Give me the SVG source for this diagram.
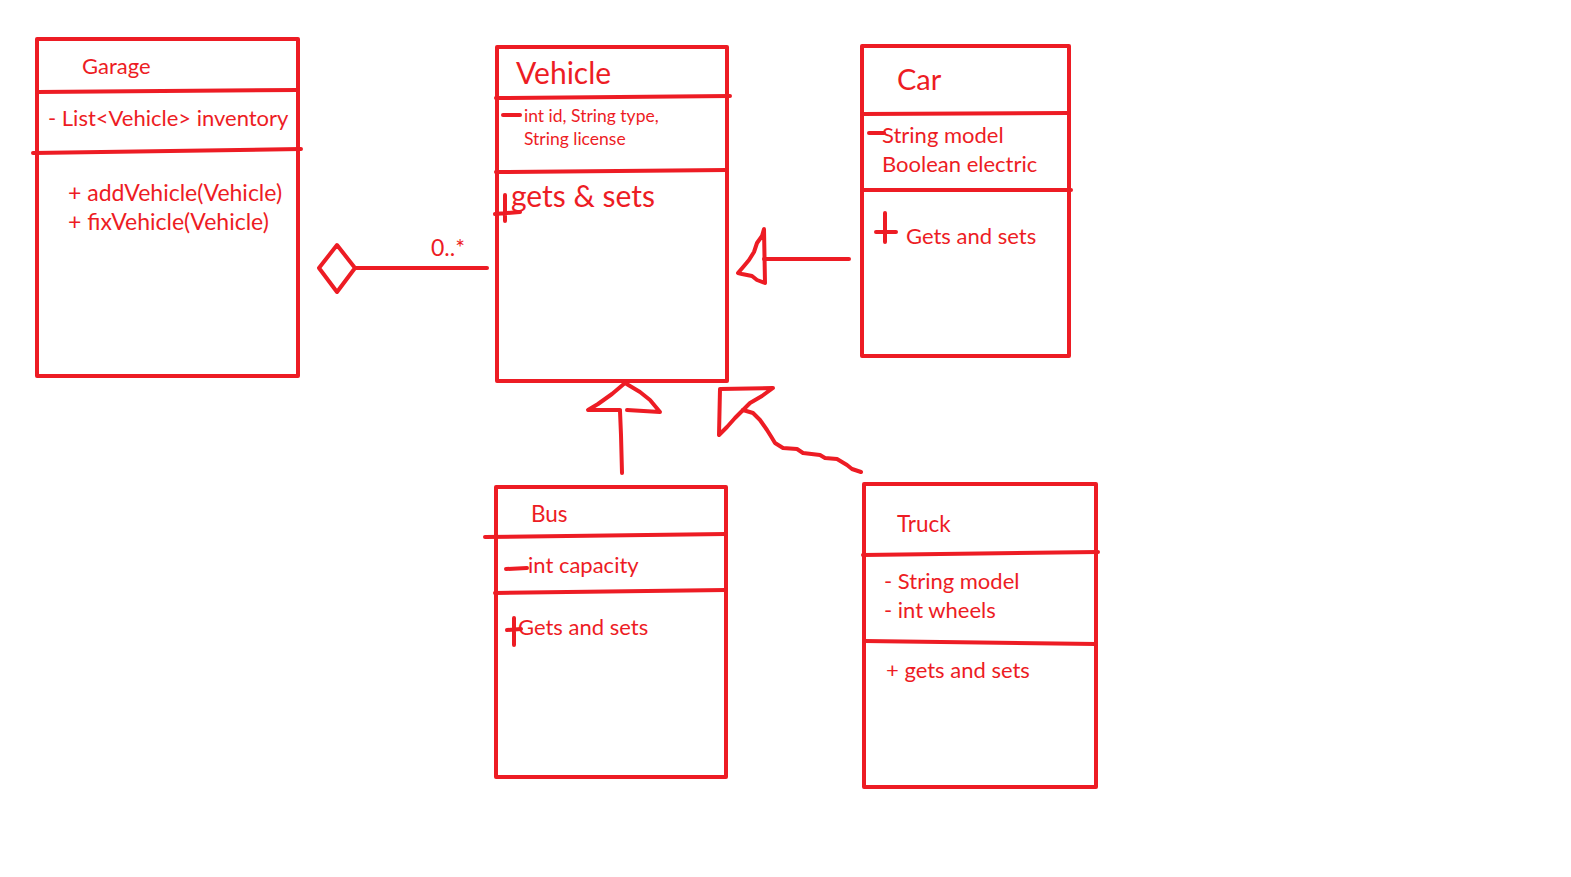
<svg xmlns="http://www.w3.org/2000/svg" width="1571" height="877" viewBox="0 0 1571 877">
<style>
.s{fill:none;stroke:#ED1C24;stroke-width:4;stroke-linecap:round;stroke-linejoin:round}
.t{fill:#ED1C24;font-family:Lato,"Open Sans","Liberation Sans",sans-serif}
</style>
<rect width="1571" height="877" fill="#fff"/>
<g id="garage">
<rect class="s" x="37" y="39" width="261" height="337"/>
<path class="s" d="M37 92 L298 90"/>
<path class="s" d="M33 153 L301 149"/>
<text class="t" x="82" y="74" font-size="22">Garage</text>
<text class="t" x="48" y="126" font-size="22">- List&lt;Vehicle&gt; inventory</text>
<text class="t" x="68" y="201" font-size="23">+ addVehicle(Vehicle)</text>
<text class="t" x="68" y="230" font-size="23">+ fixVehicle(Vehicle)</text>
</g>
<g id="vehicle">
<rect class="s" x="497" y="47" width="230" height="334"/>
<path class="s" d="M496 98 L730 96"/>
<path class="s" d="M496 172 L727 170"/>
<text class="t" x="516" y="84" font-size="30">Vehicle</text>
<path class="s" d="M503 115 L520 115"/>
<text class="t" x="524" y="122" font-size="17.5">int id, String type,</text>
<text class="t" x="524" y="145" font-size="17.5">String license</text>
<path class="s" d="M505 195 L505 221 M495 214 L520 212"/>
<text class="t" x="511" y="207" font-size="30">gets &amp; sets</text>
</g>
<g id="car">
<rect class="s" x="862" y="46" width="207" height="310"/>
<path class="s" d="M862 114 L1069 113"/>
<path class="s" d="M862 190 L1071 190"/>
<text class="t" x="897" y="90" font-size="29">Car</text>
<path class="s" d="M869 133 L884 133"/>
<text class="t" x="882" y="143" font-size="22">String model</text>
<text class="t" x="882" y="172" font-size="22">Boolean electric</text>
<path class="s" d="M885 213 L885 242 M876 232 L896 232"/>
<text class="t" x="906" y="244" font-size="22">Gets and sets</text>
</g>
<g id="bus">
<rect class="s" x="496" y="487" width="230" height="290"/>
<path class="s" d="M485 537 L726 534"/>
<path class="s" d="M495 593 L726 590"/>
<text class="t" x="531" y="522" font-size="22.5">Bus</text>
<path class="s" d="M506 569 L527 568"/>
<text class="t" x="528" y="573" font-size="22">int capacity</text>
<path class="s" d="M514 618 L514 645 M507 630 L521 629"/>
<text class="t" x="518" y="635" font-size="22">Gets and sets</text>
</g>
<g id="truck">
<rect class="s" x="864" y="484" width="232" height="303"/>
<path class="s" d="M863 555 L1098 552"/>
<path class="s" d="M864 641 L1096 644"/>
<text class="t" x="897" y="532" font-size="22.5">Truck</text>
<text class="t" x="884" y="589" font-size="22">- String model</text>
<text class="t" x="884" y="618" font-size="22">- int wheels</text>
<text class="t" x="886" y="678" font-size="22">+ gets and sets</text>
</g>
<g id="connectors">
<path class="s" d="M337 245 L355 268 L337 292 L319 268 Z"/>
<path class="s" d="M355 268 L487 268"/>
<text class="t" x="431" y="256" font-size="23">0..*</text>
<path class="s" d="M849 259 L764 259"/>
<path class="s" d="M764 229 L762 236 L757 243 L754 252 L749 260 L744 266 L738 273 L742 274 L752 276 L757 280 L765 283 Z"/>
<path class="s" d="M622 473 L621 435 L620 411"/>
<path class="s" d="M625 383 L612 394 L598 404 L588 410 L620 410 M627 410 L660 412 L650 400 L640 392 L625 383"/>
<path class="s" d="M720 389 L773 388 L762 396 L750 403 L743 410 L735 418 L727 427 L719 435 Z"/>
<path class="s" d="M743 410 L753 413 L760 420 L767 430 L772 438 L775 443 L783 448 L797 449 L803 453 L820 455 L825 458 L837 459 L847 465 L852 469 L861 472"/>
</g>
</svg>
